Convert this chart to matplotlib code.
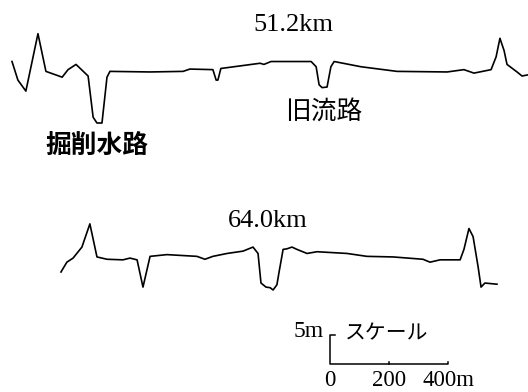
import matplotlib
matplotlib.use("Agg")
import matplotlib.pyplot as plt

# cross-section profiles, distance (m) from left edge, relative elevation (m)
dist_512 = [0, 20, 47, 88, 115, 170, 190, 217, 258, 275, 288, 305, 322, 332,
            468, 580, 603, 681, 692, 698, 708, 841, 854, 878, 1014, 1031, 1041,
            1051, 1068, 1081, 1092, 1183, 1305, 1475, 1532, 1566, 1624, 1641,
            1654, 1668, 1678, 1712, 1729, 1749]
elev_512 = [10.6, 7.4, 5.5, 15.4, 8.9, 7.9, 9.2, 10.1, 8.1, 1.0, 0.0, 0.0, 7.9, 8.9,
            8.8, 8.9, 9.3, 9.2, 7.4, 7.4, 9.4, 10.3, 10.1, 10.6, 10.6, 9.7, 6.6,
            6.1, 6.2, 9.7, 10.6, 9.7, 8.9, 8.8, 9.2, 8.6, 9.2, 11.4,
            14.6, 12.5, 10.1, 8.8, 8.1, 8.3]

dist_640 = [166, 186, 207, 237, 264, 288, 322, 376, 400, 424, 444, 468, 525, 627,
            654, 681, 729, 783, 817, 834, 844, 861, 875, 885, 898, 905, 919, 932,
            949, 966, 1000, 1034, 1136, 1203, 1292, 1393, 1417, 1451, 1519, 1532,
            1549, 1563, 1580, 1590, 1603, 1644]
elev_640 = [3.1, 4.8, 5.5, 7.4, 11.4, 5.7, 5.3, 5.2, 5.5, 5.2, 0.5, 5.8, 6.1, 5.8,
            5.3, 5.8, 6.3, 6.7, 7.4, 6.3, 1.2, 0.5, 0.4, 0.0, 0.9, 3.0, 7.0, 7.1,
            7.4, 7.0, 6.3, 6.6, 6.3, 5.8, 5.7, 5.3, 4.8, 5.2, 5.2, 7.0,
            10.6, 9.2, 4.0, 0.5, 1.2, 1.0]

scale_ticks = [0, 200, 400]
scale_height = 5
scale_origin = 1078

W, H = 528, 392
PX_PER_M_X = 0.295
PX_PER_M_Y = 5.8
X0 = 12

serif = ["Liberation Serif", "DejaVu Serif"]
jp = ["Noto Sans CJK JP", "DejaVu Sans"]

fig = plt.figure(figsize=(W / 100, H / 100), dpi=100)


def band(top_px, bot_px, base_px):
    # axes covering a horizontal band of the figure with shared metre scale
    ax = fig.add_axes([0, 1 - bot_px / H, 1, (bot_px - top_px) / H])
    ax.set_xlim(-X0 / PX_PER_M_X, (W - X0) / PX_PER_M_X)
    ax.set_ylim((base_px - bot_px) / PX_PER_M_Y, (base_px - top_px) / PX_PER_M_Y)
    ax.axis("off")
    return ax


ax1 = band(0, 170, 123)
ax1.plot(dist_512, elev_512, color="black", lw=1.2)
ax1.text(953, 16.9, "51.2km", ha="center", va="center", fontsize=19, family=serif)
ax1.text(288, -3.8, "掘削水路", ha="center", va="center", fontsize=18.5,
         family=jp, fontweight="bold")
ax1.text(1058, 1.9, "旧流路", ha="center", va="center", fontsize=18.5,
         family=jp)

ax2 = band(190, 300, 290)
ax2.plot(dist_640, elev_640, color="black", lw=1.2)
ax2.text(868, 11.9, "64.0km", ha="center", va="center", fontsize=19, family=serif)

ax3 = band(300, 392, 364)
x_end = scale_origin + scale_ticks[-1]
ax3.plot([scale_origin + 17, scale_origin, scale_origin, x_end, x_end],
         [scale_height, scale_height, 0, 0, 0.4], color="black", lw=1.1)
ax3.plot([scale_origin + scale_ticks[1]] * 2, [0, 0.3], color="black", lw=1.1)
ax3.text(scale_origin - 22, scale_height + 0.6, f"{scale_height}m", ha="right",
         va="center", fontsize=17, family=serif)
ax3.text(scale_origin + 193, scale_height + 0.3, "スケール", ha="center",
         va="center", fontsize=15, family=jp)
for t in scale_ticks:
    lab = f"{t}m" if t == scale_ticks[-1] else f"{t}"
    ax3.text(scale_origin + t, -2.8, lab, ha="center", va="center",
             fontsize=16.5, family=serif)

fig.savefig("out.png", dpi=100)
